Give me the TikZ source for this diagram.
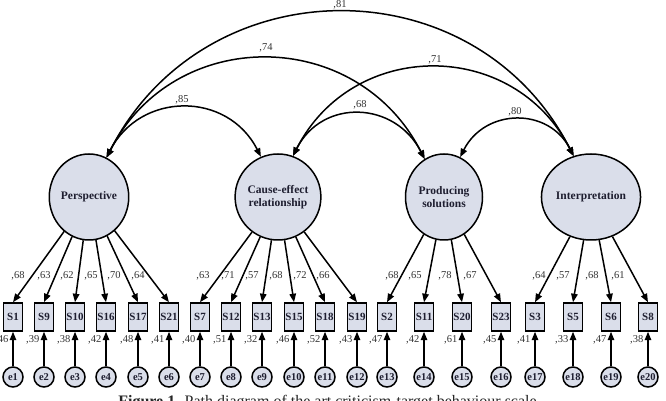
\documentclass[tikz,border=0pt]{standalone}
\usepackage{fontspec}
\setmainfont{Liberation Serif}
\usetikzlibrary{shapes.geometric,arrows.meta}
\definecolor{fillc}{RGB}{218,222,234}
\definecolor{txtc}{RGB}{30,30,48}
\begin{document}
\begin{tikzpicture}[x=1pt,y=1pt,
 latent/.style={ellipse, draw, line width=1.5pt, fill=fillc, minimum width=77pt, minimum height=86pt, inner sep=0pt, align=center, font=\fontsize{11.5}{12.5}\selectfont\bfseries, text=txtc},
 obs/.style={rectangle, draw, line width=1.5pt, fill=fillc, minimum width=19pt, minimum height=28pt, inner sep=0pt, font=\fontsize{11}{12}\selectfont\bfseries, text=txtc},
 err/.style={circle, draw, line width=1.5pt, fill=fillc, minimum size=20pt, inner sep=0pt, font=\fontsize{10.5}{11}\selectfont\bfseries, text=txtc},
 lbl/.style={font=\fontsize{10.5}{11}\selectfont, text=black!80, inner sep=0pt},
 arr/.style={line width=1.5pt, -{Triangle[length=8.5pt,width=6.5pt]}},
 cov/.style={line width=1.5pt, {Triangle[length=8.5pt,width=6.5pt]}-{Triangle[length=8.5pt,width=6.5pt]}},
]
\fill[white] (0,0) rectangle (666,401);
\useasboundingbox (0,0) rectangle (666,401);

\node[latent] (P) at (89,204) {Perspective};
\node[latent] (C) at (278,204) {Cause-effect\\relationship};
\node[latent] (Pr) at (444,204) {Producing\\solutions};
\node[latent] (I) at (591,204) {Interpretation};

\foreach \n/\x/\ld/\lx/\ev/\lat [count=\i] in {
 S1/13/68/18/46/P, S9/44/63/44/39/P, S10/75/62/67/38/P, S16/106/65/91/42/P,
 S17/138/70/114/48/P, S21/169/64/138/41/P,
 S7/200/63/203/40/C, S12/231/71/228/51/C, S13/262/57/252/32/C, S15/294/68/276/46/C,
 S18/325/72/300/52/C, S19/357/66/323/43/C,
 S2/387/68/392/47/Pr, S11/424/65/415/42/Pr, S20/462/78/445/61/Pr, S23/501/67/470/45/Pr,
 S3/535/64/539/41/I, S5/573/57/563/33/I, S6/611/68/592/47/I, S8/648/61/618/38/I}{
  \node[obs] (\n) at (\x,84) {\n};
  \node[err] (e\i) at (\x,24) {e\i};
  \draw[arr] (\lat) -- (\n.north);
  \draw[arr] (e\i) -- (\n.south);
  \node[lbl] at (\lx,125) {,\ld};
  \node[lbl,anchor=east] at (\x-4.5,61) {,\ev};
}

\draw[cov] (P.66) .. controls +(63:74) and +(117:74) .. (C.113);
\draw[cov] (P.66) .. controls +(63:149) and +(117:149) .. (Pr.117);
\draw[cov] (P.66) .. controls +(63:216) and +(117:216) .. (I.113);
\draw[cov] (C.70) .. controls +(63:65) and +(117:65) .. (Pr.117);
\draw[cov] (C.70) .. controls +(63:132) and +(117:132) .. (I.113);
\draw[cov] (Pr.68) .. controls +(63:55) and +(117:55) .. (I.113);

\node[lbl] (l85) at (182,301) {,85};
\node[lbl] (l74) at (266,353) {,74};
\node[lbl] (l81) at (340,396) {,81};
\node[lbl] (l68) at (360,296) {,68};
\node[lbl] (l71) at (435,341) {,71};
\node[lbl] (l80) at (515,289) {,80};

\node[anchor=base, font=\fontsize{16}{18}\selectfont, text=black!85, inner sep=0pt] (cap) at (327.5,-5.6) {\textbf{Figure 1.} Path diagram of the art criticism-target behaviour scale};
\end{tikzpicture}
\end{document}
